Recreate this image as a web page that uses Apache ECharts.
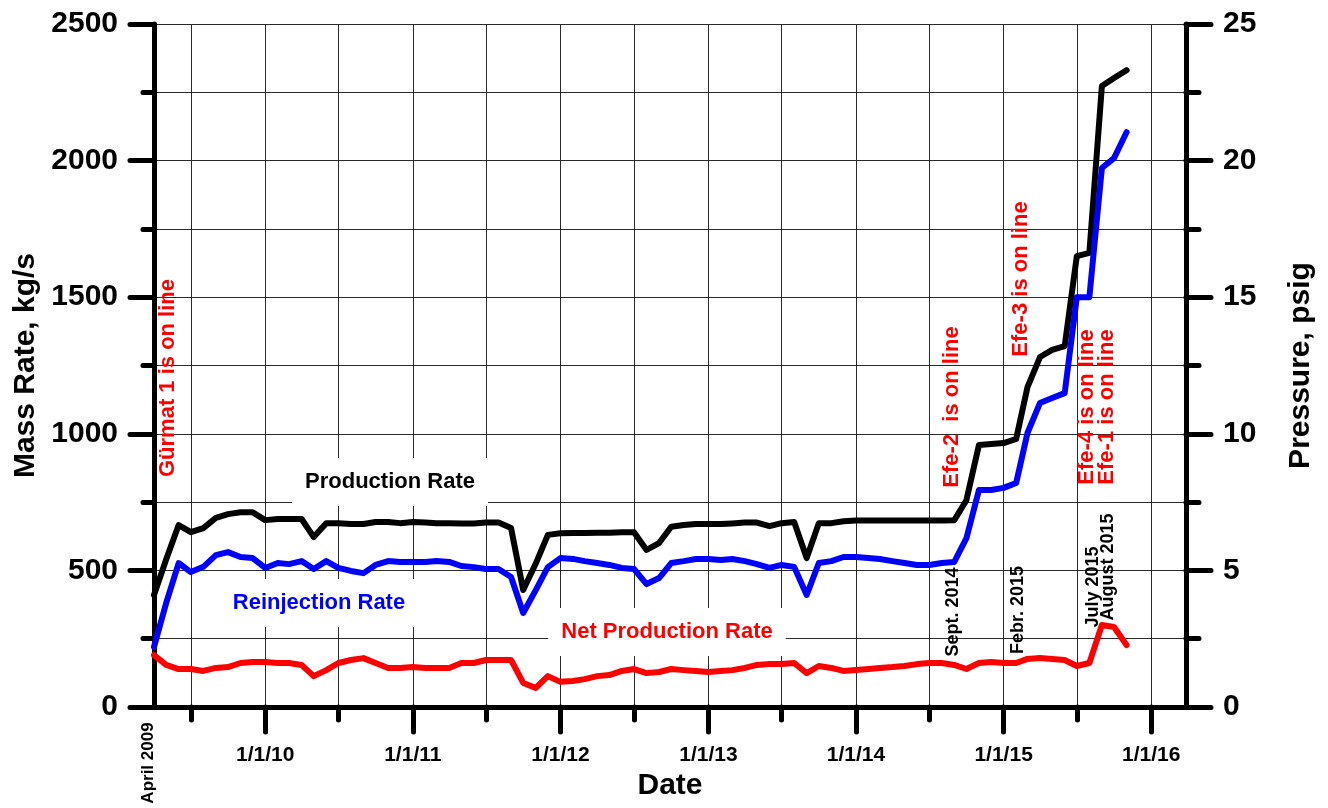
<!DOCTYPE html>
<html>
<head>
<meta charset="utf-8">
<script src="https://cdn.jsdelivr.net/npm/echarts@6.0.0/dist/echarts.min.js"></script>
<style>
  html, body { margin: 0; padding: 0; background: #fff; }
  #chart { width: 1328px; height: 808px; }
</style>
</head>
<body>
<div id="chart"></div>
<script>
// ---- Data (monthly, April 2009 - November 2015) ----
const dates = [
  '2009-04-01','2009-05-01','2009-06-01','2009-07-01','2009-08-01','2009-09-01','2009-10-01','2009-11-01','2009-12-01',
  '2010-01-01','2010-02-01','2010-03-01','2010-04-01','2010-05-01','2010-06-01','2010-07-01','2010-08-01','2010-09-01','2010-10-01','2010-11-01','2010-12-01',
  '2011-01-01','2011-02-01','2011-03-01','2011-04-01','2011-05-01','2011-06-01','2011-07-01','2011-08-01','2011-09-01','2011-10-01','2011-11-01','2011-12-01',
  '2012-01-01','2012-02-01','2012-03-01','2012-04-01','2012-05-01','2012-06-01','2012-07-01','2012-08-01','2012-09-01','2012-10-01','2012-11-01','2012-12-01',
  '2013-01-01','2013-02-01','2013-03-01','2013-04-01','2013-05-01','2013-06-01','2013-07-01','2013-08-01','2013-09-01','2013-10-01','2013-11-01','2013-12-01',
  '2014-01-01','2014-02-01','2014-03-01','2014-04-01','2014-05-01','2014-06-01','2014-07-01','2014-08-01','2014-09-01','2014-10-01','2014-11-01','2014-12-01',
  '2015-01-01','2015-02-01','2015-03-01','2015-04-01','2015-05-01','2015-06-01','2015-07-01','2015-08-01','2015-09-01','2015-10-01','2015-11-01'
];
const productionRate = [
  410, 540, 666, 640, 655, 692, 706, 713, 713,
  684, 688, 688, 688, 622, 673, 673, 670, 670, 677, 677, 673,
  677, 675, 673, 673, 672, 672, 675, 675, 655, 428, 525, 630,
  636, 637, 637, 638, 638, 640, 640, 575, 600, 660, 666, 670,
  670, 670, 672, 675, 675, 662, 673, 677, 545, 673, 673, 680,
  683, 683, 683, 683, 683, 683, 683, 683, 684, 757, 959, 963,
  966, 981, 1171, 1281, 1307, 1321, 1650, 1662, 2273, 2302, 2331
];
const reinjectionRate = [
  220, 380, 527, 494, 513, 556, 567, 549, 545,
  509, 527, 523, 534, 505, 534, 509, 498, 490, 520, 534, 531,
  531, 531, 534, 531, 516, 512, 505, 505, 476, 344, 428, 512,
  545, 542, 534, 527, 520, 509, 505, 450, 472, 527, 534, 542,
  542, 538, 542, 534, 523, 509, 520, 513, 410, 527, 534, 549,
  549, 545, 542, 534, 527, 520, 520, 527, 531, 618, 794, 794,
  802, 820, 1003, 1113, 1131, 1149, 1500, 1500, 1973, 2009, 2104
];
const netProductionRate = [
  190, 154, 139, 139, 132, 143, 146, 161, 165,
  165, 161, 161, 154, 113, 135, 161, 172, 179, 161, 143, 143,
  146, 143, 143, 143, 161, 161, 172, 172, 172, 88, 70, 113,
  92, 95, 102, 113, 117, 132, 139, 124, 128, 139, 135, 132,
  128, 132, 135, 143, 154, 157, 157, 161, 124, 150, 143, 132,
  135, 139, 143, 146, 150, 157, 161, 161, 154, 139, 161, 165,
  161, 161, 176, 179, 176, 172, 150, 161, 300, 293, 227
];
const yearTicks = ['2010-01-01','2011-01-01','2012-01-01','2013-01-01','2014-01-01','2015-01-01','2016-01-01'];
const halfYearTicks = ['2009-07-01','2010-07-01','2011-07-01','2012-07-01','2013-07-01','2014-07-01','2015-07-01'];
const xMin = '2009-04-01';
const xMax = '2016-03-27';

function ts(s) {
  const p = s.split('-').map(Number);
  return new Date(p[0], p[1] - 1, p[2]).getTime();
}

const FONT = 'Liberation Sans, Arial, Helvetica, sans-serif';
const chart = echarts.init(document.getElementById('chart'), null, { renderer: 'canvas' });

function pairs(vals) { return dates.map((d, i) => [ts(d), vals[i]]); }

const gridColor = '#2a2a2a';

const option = {
  animation: false,
  backgroundColor: '#fff',
  textStyle: { fontFamily: FONT },
  grid: { left: 154, right: 142, top: 24, bottom: 101, containLabel: false, outerBoundsMode: 'none' },
  xAxis: [
    {
      type: 'value', min: ts(xMin), max: ts(xMax), position: 'bottom',
      name: 'Date', nameLocation: 'middle', nameGap: 62,
      nameTextStyle: { fontSize: 30, fontWeight: 'bold', color: '#000', fontFamily: FONT },
      axisLine: { show: true, onZero: false, lineStyle: { color: '#000', width: 5 } },
      axisTick: { show: true, customValues: yearTicks.map(ts), length: 25, inside: false,
                  lineStyle: { color: '#000', width: 5, cap: 'round' } },
      axisLabel: { show: true, customValues: yearTicks.map(ts), margin: 38, fontSize: 21, fontWeight: 'bold', color: '#000',
                   fontFamily: FONT, hideOverlap: false, showMinLabel: true, showMaxLabel: true,
                   formatter: function (v) { const d = new Date(v); return (d.getMonth() + 1) + '/' + d.getDate() + '/' + String(d.getFullYear()).slice(2); } },
      splitLine: { show: true, lineStyle: { color: gridColor, width: 1 } }
    },
    {
      type: 'value', min: ts(xMin), max: ts(xMax), position: 'bottom',
      axisLine: { show: false, onZero: false },
      axisTick: { show: true, customValues: halfYearTicks.map(ts), length: 13, inside: false,
                  lineStyle: { color: '#000', width: 5, cap: 'round' } },
      axisLabel: { show: false, customValues: halfYearTicks.map(ts) },
      splitLine: { show: true, lineStyle: { color: gridColor, width: 1 } }
    }
  ],
  yAxis: [
    {
      type: 'value', min: 0, max: 2500, interval: 500, position: 'left',
      name: 'Mass Rate, kg/s', nameLocation: 'middle', nameGap: 112, nameRotate: 90,
      nameTextStyle: { fontSize: 30, fontWeight: 'bold', color: '#000', fontFamily: FONT },
      axisLine: { show: true, lineStyle: { color: '#000', width: 5 } },
      axisTick: { show: true, length: 24, lineStyle: { color: '#000', width: 5, cap: 'round' } },
      minorTick: { show: true, splitNumber: 2, length: 11, lineStyle: { color: '#000', width: 5, cap: 'round' } },
      axisLabel: { margin: 36, fontSize: 30, fontWeight: 'bold', color: '#000', fontFamily: FONT,
                   formatter: function (v) { return String(v); } },
      splitLine: { show: true, lineStyle: { color: gridColor, width: 1 } },
      minorSplitLine: { show: true, lineStyle: { color: gridColor, width: 1 } }
    },
    {
      type: 'value', min: 0, max: 25, interval: 5, position: 'right',
      name: 'Pressure, psig', nameLocation: 'middle', nameGap: 100, nameRotate: 90,
      nameTextStyle: { fontSize: 30, fontWeight: 'bold', color: '#000', fontFamily: FONT },
      axisLine: { show: true, lineStyle: { color: '#000', width: 5 } },
      axisTick: { show: true, length: 25, lineStyle: { color: '#000', width: 5, cap: 'round' } },
      minorTick: { show: true, splitNumber: 2, length: 13, lineStyle: { color: '#000', width: 5, cap: 'round' } },
      axisLabel: { margin: 37, fontSize: 30, fontWeight: 'bold', color: '#000', fontFamily: FONT,
                   formatter: function (v) { return String(v); } },
      splitLine: { show: false },
      minorSplitLine: { show: false }
    }
  ],
  series: [
    { name: 'Production Rate', type: 'line', xAxisIndex: 0, yAxisIndex: 0, data: pairs(productionRate),
      showSymbol: false, symbol: 'none', z: 3,
      lineStyle: { color: '#000', width: 6, join: 'round', cap: 'round' } },
    { name: 'Reinjection Rate', type: 'line', xAxisIndex: 0, yAxisIndex: 0, data: pairs(reinjectionRate),
      showSymbol: false, symbol: 'none', z: 4,
      lineStyle: { color: '#0000ff', width: 6, join: 'round', cap: 'round' } },
    { name: 'Net Production Rate', type: 'line', xAxisIndex: 0, yAxisIndex: 0, data: pairs(netProductionRate),
      showSymbol: false, symbol: 'none', z: 5,
      lineStyle: { color: '#ff0000', width: 6, join: 'round', cap: 'round' } }
  ],
  graphic: []
};

function boxLabel(text, x, y, color) {
  return { type: 'text', x: x, y: y, z: 1, silent: true,
    style: { text: text, fill: color, font: 'bold 22px ' + FONT, align: 'center', verticalAlign: 'middle',
             backgroundColor: '#fff', padding: [13, 13] } };
}
function vLabel(text, x, y, color, size) {
  return { type: 'text', x: x, y: y, rotation: Math.PI / 2, z: 10, silent: true,
    style: { text: text, fill: color, font: 'bold ' + size + 'px ' + FONT, align: 'center', verticalAlign: 'middle' } };
}

option.graphic = [
  boxLabel('Production Rate', 390, 482, '#000'),
  boxLabel('Reinjection Rate', 319, 603, '#0000ff'),
  boxLabel('Net Production Rate', 667, 632, '#ff0000'),
  vLabel('Gürmat 1 is on line', 168, 378, '#ff0000', 22),
  vLabel('Efe-2  is on line', 952, 407, '#ff0000', 22),
  vLabel('Efe-3 is on line', 1021, 279, '#ff0000', 22),
  vLabel('Efe-4 is on line', 1087, 407, '#ff0000', 22),
  vLabel('Efe-1 is on line', 1107, 407, '#ff0000', 22),
  vLabel('Sept. 2014', 953, 612, '#000', 18),
  vLabel('Febr. 2015', 1018, 610, '#000', 18),
  vLabel('July 2015', 1093, 587, '#000', 18),
  vLabel('August 2015', 1108, 567, '#000', 18),
  vLabel('April 2009', 148, 763, '#000', 17)
];

chart.setOption(option);
</script>
</body>
</html>
